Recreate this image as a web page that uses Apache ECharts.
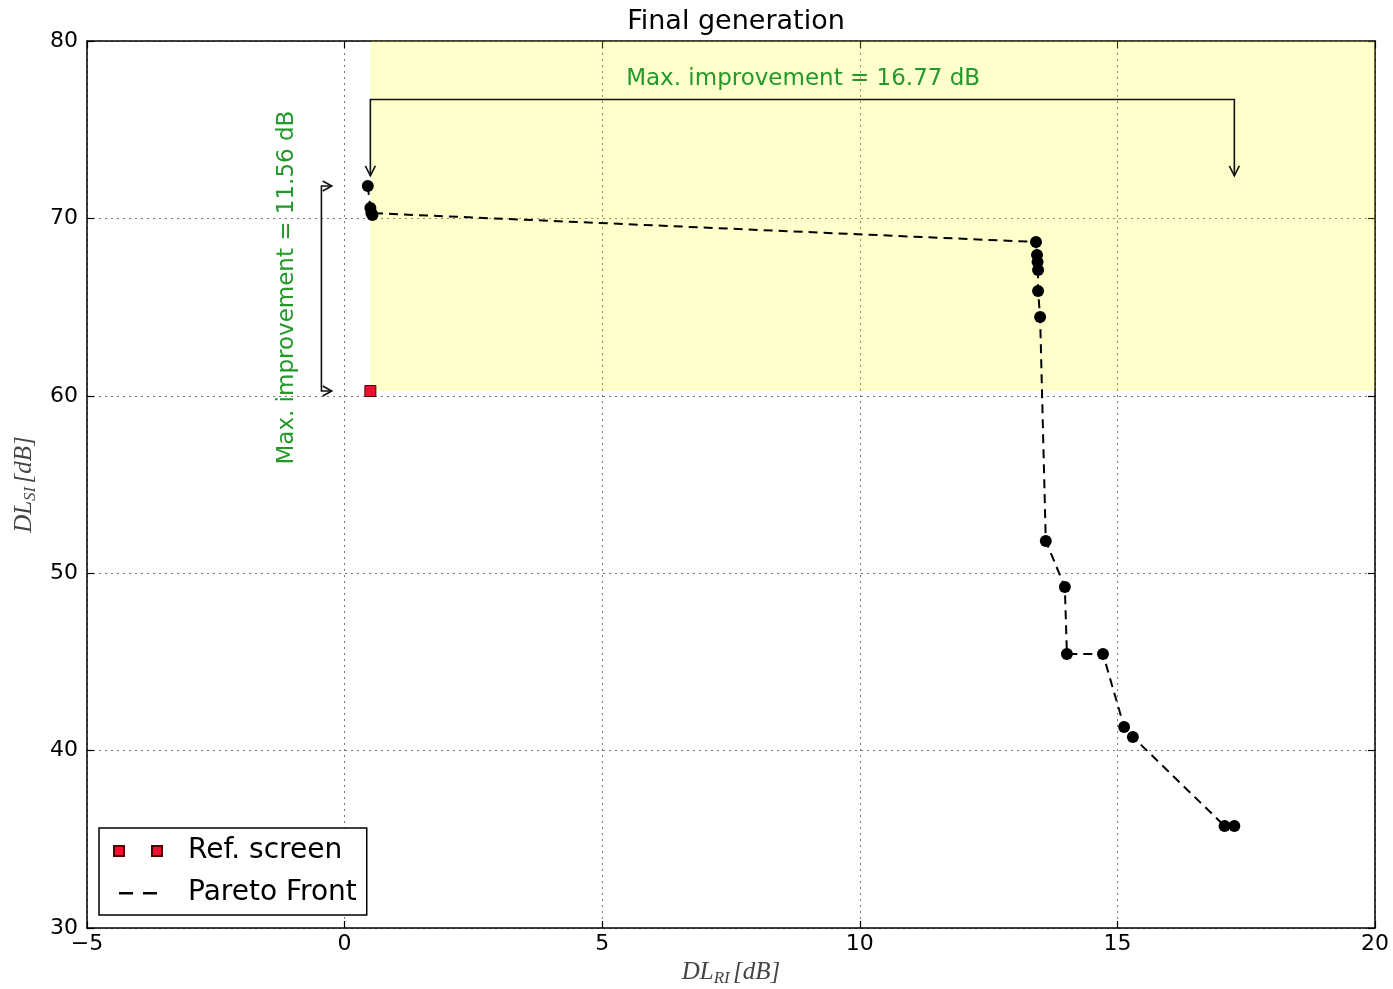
<!DOCTYPE html>
<html>
<head>
<meta charset="utf-8">
<script src="https://cdn.jsdelivr.net/npm/echarts@6/dist/echarts.min.js"></script>
<style>
  html, body { margin: 0; padding: 0; background: #fff; }
  #chart { width: 1393px; height: 989px; }
</style>
</head>
<body>
<div id="chart"></div>
<script>
// pareto front of the final generation
var paretoX = [0.45, 0.50, 0.52, 0.54, 13.42, 13.44, 13.45, 13.46, 13.46, 13.50, 13.61, 13.98, 14.02, 14.72, 15.13, 15.30, 17.08, 17.27];
var paretoY = [71.83, 70.59, 70.30, 70.19, 68.67, 67.94, 67.54, 67.09, 65.91, 64.44, 51.82, 49.22, 45.45, 45.45, 41.33, 40.77, 35.75, 35.75];
// reference screen
var refX = [0.50];
var refY = [60.27];
// annotation texts
var gainXText = "Max. improvement = 16.77 dB";
var gainYText = "Max. improvement = 11.56 dB";
// axis ticks
var xTicks = [-5, 0, 5, 10, 15, 20];
var yTicks = [30, 40, 50, 60, 70, 80];

var green = "#22992a";
var font = "DejaVu Sans";

var paretoData = paretoX.map(function (x, i) { return [x, paretoY[i]]; });
var refData = refX.map(function (x, i) { return [x, refY[i]]; });
var maxX = Math.max.apply(null, paretoX);
var maxY = Math.max.apply(null, paretoY);

var myChart = echarts.init(document.getElementById("chart"));

function minusFmt(v) {
  return String(v).replace("-", "\u2212");
}

var nameRich = {
  i: { fontFamily: "Liberation Serif", fontStyle: "italic", fontSize: 25, color: "#444" },
  s: { fontFamily: "Liberation Serif", fontStyle: "italic", fontSize: 17, color: "#444", padding: [13, 0, 0, 0] }
};

// brackets + arrows + green labels, placed in data coordinates
function renderNotes(params, api) {
  var barY = 76.7, tipY = 72.4;
  var barX = -0.45, stubX = -0.25;
  var L = api.coord([refX[0], tipY]);
  var LB = api.coord([refX[0], barY]);
  var R = api.coord([maxX, tipY]);
  var RB = api.coord([maxX, barY]);
  var vt = api.coord([stubX, maxY]);
  var vtb = api.coord([barX, maxY]);
  var vb = api.coord([stubX, refY[0]]);
  var vbb = api.coord([barX, refY[0]]);
  var st = { stroke: "#111", lineWidth: 1.6, fill: null };
  function head(p, dir) {
    // open arrow head
    if (dir === "down") return { type: "polyline", shape: { points: [[p[0] - 5, p[1] - 10], p, [p[0] + 5, p[1] - 10]] }, style: st };
    return { type: "polyline", shape: { points: [[p[0] - 9, p[1] - 5], p, [p[0] - 9, p[1] + 5]] }, style: st };
  }
  var tp = api.coord([8.9, 77.85]);
  var vp = api.coord([-1.11, 66.1]);
  return {
    type: "group",
    children: [
      { type: "polyline", shape: { points: [L, LB, RB, R] }, style: st },
      head(L, "down"),
      head(R, "down"),
      { type: "polyline", shape: { points: [vt, vtb, vbb, vb] }, style: st },
      head(vt, "right"),
      head(vb, "right"),
      { type: "text", x: tp[0], y: tp[1], style: { text: gainXText, fill: green, font: "23px " + font, align: "center", verticalAlign: "middle" } },
      { type: "text", x: vp[0], y: vp[1], rotation: Math.PI / 2, style: { text: gainYText, fill: green, font: "23px " + font, align: "center", verticalAlign: "middle" } }
    ]
  };
}

var axisCommon = {
  axisLine: { show: true, onZero: false, lineStyle: { color: "#000", width: 1.5 } },
  axisTick: { show: true, inside: true, length: 7, lineStyle: { color: "#000", width: 1.2 } }
};

var option = {
  animation: false,
  title: {
    text: "Final generation",
    left: 731,
    top: 3,
    textAlign: "center",
    textStyle: { fontFamily: font, fontSize: 27, fontWeight: "normal", color: "#000" }
  },
  grid: { left: 87, right: 18, top: 41, bottom: 61, outerBoundsMode: "none", containLabel: false },
  legend: {
    data: [
      { name: "Ref. screen", icon: "path://M0,0h10v10h-10z M38,0h10v10h-10z" },
      { name: "Pareto Front", icon: "path://M2,4h14v2.5h-14z M26,4h14v2.5h-14z M0,0h0.01v0.01h-0.01z M42,10h0.01v0.01h-0.01z" }
    ],
    orient: "vertical",
    left: 99,
    top: 828,
    padding: [9, 10, 8, 14],
    itemGap: 14,
    itemWidth: 48,
    itemHeight: 10,
    borderColor: "#000",
    borderWidth: 1.5,
    borderRadius: 0,
    backgroundColor: "#fff",
    textStyle: { fontFamily: font, fontSize: 28, color: "#000", padding: [0, 0, 0, 21] }
  },
  xAxis: [
    Object.assign({
      type: "value", min: xTicks[0], max: xTicks[xTicks.length - 1], interval: 5,
      name: "{i|DL}{s|RI} {i|[dB]}", nameLocation: "middle", nameGap: 28,
      nameTextStyle: { rich: nameRich },
      axisLabel: { fontFamily: font, fontSize: 22, color: "#000", margin: 5, formatter: minusFmt },
      splitLine: { show: true, lineStyle: { color: "#777", type: [2, 4], width: 1 } }
    }, axisCommon),
    Object.assign({
      type: "value", position: "top", min: xTicks[0], max: xTicks[xTicks.length - 1], interval: 5,
      axisLabel: { show: false }, splitLine: { show: false }
    }, axisCommon)
  ],
  yAxis: [
    Object.assign({
      type: "value", min: yTicks[0], max: yTicks[yTicks.length - 1], interval: 10,
      name: "{i|DL}{s|SI} {i|[dB]}", nameLocation: "middle", nameGap: 46, nameRotate: 90,
      nameTextStyle: { rich: nameRich },
      axisLabel: { fontFamily: font, fontSize: 22, color: "#000", margin: 9, formatter: minusFmt },
      splitLine: { show: true, lineStyle: { color: "#777", type: [2, 4], width: 1 } }
    }, axisCommon),
    Object.assign({
      type: "value", position: "right", min: yTicks[0], max: yTicks[yTicks.length - 1], interval: 10,
      axisLabel: { show: false }, splitLine: { show: false }
    }, axisCommon)
  ],
  series: [
    {
      name: "Pareto Front",
      type: "line",
      data: paretoData,
      symbol: "circle",
      symbolSize: 12,
      showAllSymbol: true,
      itemStyle: { color: "#000" },
      lineStyle: { color: "#000", width: 2, type: [9, 6] },
      z: 4
    },
    {
      name: "Ref. screen",
      type: "scatter",
      data: refData,
      symbol: "rect",
      symbolSize: 11,
      itemStyle: { color: "#ee1030", borderColor: "#500", borderWidth: 1, opacity: 1 },
      markArea: {
        silent: true,
        itemStyle: { color: "rgba(255,255,0,0.2)" },
        data: [[{ coord: [refX[0], refY[0]] }, { coord: [xTicks[xTicks.length - 1], yTicks[yTicks.length - 1]] }]]
      },
      z: 5
    },
    {
      name: "notes",
      type: "custom",
      coordinateSystem: "cartesian2d",
      renderItem: renderNotes,
      data: [[0, 50]],
      silent: true,
      z: 6
    }
  ]
};

myChart.setOption(option);
window.addEventListener("resize", function () {
  myChart.resize();
});
</script>
</body>
</html>
